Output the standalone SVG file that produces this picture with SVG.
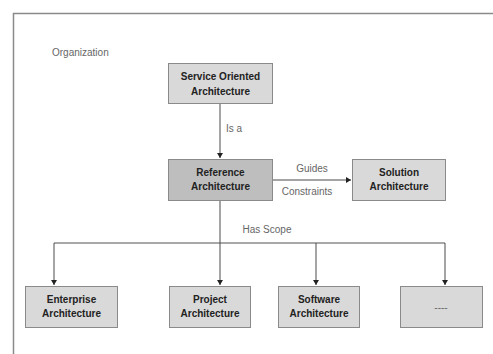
<svg xmlns="http://www.w3.org/2000/svg" width="493" height="354" viewBox="0 0 493 354">
<style>
.box{stroke:#8a8a8a;stroke-width:1}
.lt{fill:#d9d9d9}
.dk{fill:#bebebe}
.bt{font-family:"Liberation Sans",Arial,sans-serif;font-size:10px;font-weight:bold;fill:#222;text-anchor:middle}
.lb{font-family:"Liberation Sans",Arial,sans-serif;font-size:10px;fill:#666;text-anchor:middle}
.ln{stroke:#4a4a4a;stroke-width:1;fill:none}
.bus{stroke:#a8a8a8;stroke-width:2;fill:none}
</style>
<defs>
<marker id="ah" markerWidth="6" markerHeight="6" refX="5" refY="3" orient="auto" markerUnits="userSpaceOnUse">
<path d="M0,0 L5,3 L0,6 Z" fill="#222"/>
</marker>
</defs>
<rect width="493" height="354" fill="#ffffff"/>
<path d="M13.5,354 V13.5 H493" stroke="#8a8a8a" stroke-width="1.5" fill="none"/>
<text x="52" y="56" font-family="'Liberation Sans',Arial,sans-serif" font-size="10" fill="#666">Organization</text>

<g id="connectors">
<line class="ln" x1="220" y1="103" x2="220" y2="158" marker-end="url(#ah)"/>
<text class="lb" x="234" y="132">Is a</text>
<line class="ln" x1="272" y1="180" x2="351" y2="180" marker-end="url(#ah)"/>
<text class="lb" x="312" y="172">Guides</text>
<text class="lb" x="307" y="195">Constraints</text>
<line class="bus" x1="54" y1="243" x2="445" y2="243"/>
<line class="ln" x1="220" y1="200" x2="220" y2="285" marker-end="url(#ah)"/>
<line class="ln" x1="54" y1="243" x2="54" y2="285" marker-end="url(#ah)"/>
<line class="ln" x1="316" y1="243" x2="316" y2="285" marker-end="url(#ah)"/>
<line class="ln" x1="445" y1="243" x2="445" y2="285" marker-end="url(#ah)"/>
<text class="lb" x="267" y="233">Has Scope</text>
</g>

<g id="soa">
<rect class="box lt" x="168.5" y="63.5" width="104" height="40"/>
<text class="bt" x="220.5" y="80">Service Oriented</text>
<text class="bt" x="220.5" y="95">Architecture</text>
</g>
<g id="reference">
<rect class="box dk" x="168.5" y="159.5" width="104" height="41"/>
<text class="bt" x="220.5" y="176">Reference</text>
<text class="bt" x="220.5" y="190">Architecture</text>
</g>
<g id="solution">
<rect class="box lt" x="352.5" y="159.5" width="93" height="41"/>
<text class="bt" x="399" y="176">Solution</text>
<text class="bt" x="399" y="190">Architecture</text>
</g>
<g id="enterprise">
<rect class="box lt" x="25.5" y="286.5" width="92" height="41"/>
<text class="bt" x="71.5" y="303">Enterprise</text>
<text class="bt" x="71.5" y="317">Architecture</text>
</g>
<g id="project">
<rect class="box lt" x="169.5" y="286.5" width="81" height="41"/>
<text class="bt" x="210" y="303">Project</text>
<text class="bt" x="210" y="317">Architecture</text>
</g>
<g id="software">
<rect class="box lt" x="278.5" y="286.5" width="81" height="41"/>
<text class="bt" x="319" y="303">Software</text>
<text class="bt" x="319" y="317">Architecture</text>
</g>
<g id="more">
<rect class="box lt" x="400.5" y="286.5" width="82" height="41"/>
<text class="lb" x="441" y="311" font-size="8">----</text>
</g>
</svg>
